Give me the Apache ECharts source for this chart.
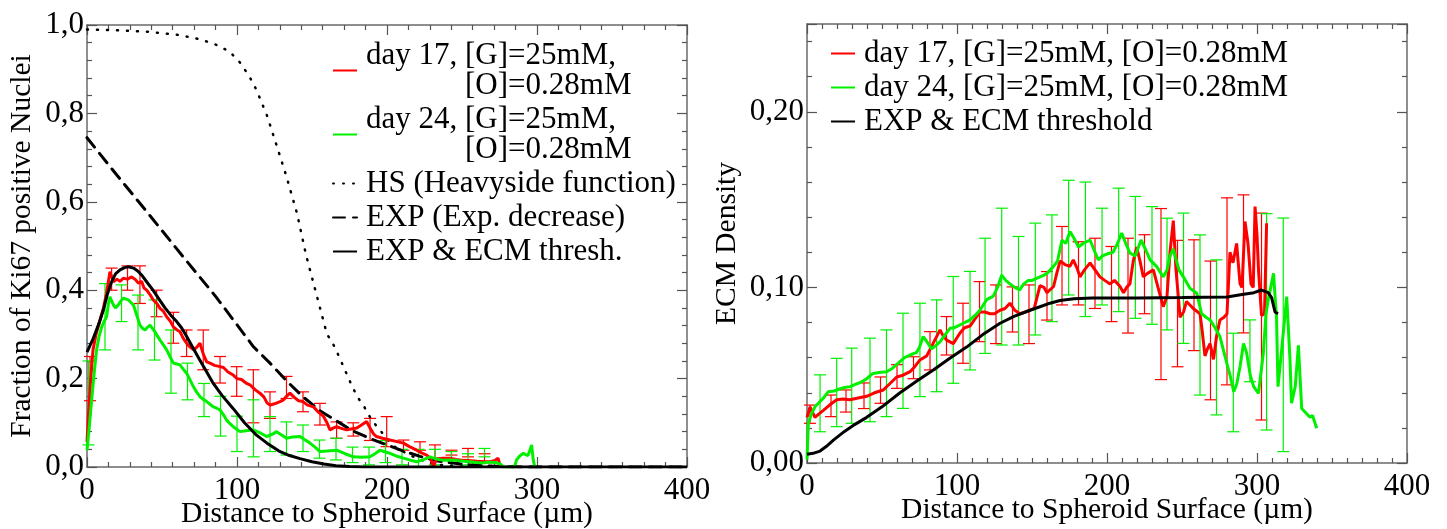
<!DOCTYPE html>
<html>
<head>
<meta charset="utf-8">
<script src="https://cdn.jsdelivr.net/npm/echarts@6/dist/echarts.min.js"></script>
<style>
  html, body { margin: 0; padding: 0; background: #fff; }
  #chart { width: 1447px; height: 529px; }
</style>
</head>
<body>
<div id="chart"></div>
<script>
// ---- left panel: fraction of Ki67 positive nuclei ----
var ki67Day17 = [[0,0.057],[1,0.12],[2.5,0.2],[4,0.265],[6,0.3],[8.7,0.333],[11,0.36],[13,0.393],[15.3,0.442],[17.6,0.419],[20,0.425],[22,0.42],[24.2,0.427],[27,0.425],[29.8,0.43],[32,0.425],[34.2,0.416],[36.4,0.42],[38,0.405],[39.8,0.40],[42,0.39],[44.2,0.378],[46.5,0.37],[48.7,0.359],[51,0.352],[53.1,0.34],[55.5,0.33],[57.6,0.317],[60,0.31],[62,0.306],[64,0.292],[66.4,0.28],[68.5,0.272],[70.9,0.266],[73,0.27],[75.3,0.28],[77.6,0.255],[79.8,0.238],[82,0.235],[85,0.23],[88.7,0.227],[91,0.225],[94,0.215],[97.5,0.208],[100,0.2],[103,0.198],[106.4,0.189],[109,0.185],[112,0.175],[115.3,0.167],[118,0.158],[120,0.145],[122,0.14],[125,0.143],[128.7,0.148],[131,0.152],[133,0.16],[135.3,0.167],[138,0.158],[141,0.15],[144,0.148],[147,0.14],[151,0.136],[154,0.125],[157.6,0.115],[160,0.1],[162,0.084],[164,0.088],[166.4,0.091],[169,0.088],[173,0.084],[176,0.086],[179.8,0.088],[183,0.095],[186.4,0.103],[188.7,0.088],[191,0.075],[193,0.069],[197,0.065],[202,0.061],[206,0.058],[210.9,0.054],[215,0.046],[219.8,0.038],[223,0.032],[226.4,0.027],[229,0.02],[231,0.001],[233,0.018],[237,0.02],[242,0.02],[246,0.017],[251,0.015],[256,0.014],[260,0.013],[265,0.012],[269,0.012],[272,0.015],[274,0.02],[275.5,0.002]];
var ki67Day24 = [[0,0.038],[1.5,0.09],[3.1,0.152],[5,0.22],[6.4,0.265],[8,0.295],[9.8,0.317],[11.5,0.33],[13.1,0.34],[14.3,0.37],[15.3,0.385],[16.5,0.375],[17.6,0.367],[19,0.36],[20.9,0.367],[22.5,0.375],[24.2,0.382],[26,0.38],[27.6,0.378],[29.3,0.372],[30.9,0.367],[33,0.345],[35.3,0.321],[37,0.314],[38.7,0.31],[40.3,0.316],[42,0.321],[43.7,0.313],[45.3,0.306],[47,0.296],[48.7,0.287],[51,0.276],[53.1,0.265],[55.3,0.25],[57.6,0.235],[60,0.233],[62,0.231],[64,0.222],[66.4,0.212],[68.7,0.197],[70.9,0.182],[73,0.17],[75.3,0.159],[77.5,0.153],[79.8,0.148],[82,0.142],[84.2,0.136],[86.5,0.133],[88.7,0.129],[91,0.118],[93.1,0.106],[95.3,0.098],[97.5,0.091],[100,0.085],[102,0.08],[106,0.082],[110.9,0.084],[115,0.078],[119.8,0.069],[124,0.075],[126.4,0.08],[130,0.072],[133,0.065],[137,0.068],[142,0.069],[145,0.062],[148.7,0.054],[152,0.045],[155.3,0.035],[160,0.036],[166.4,0.038],[172,0.03],[177.5,0.023],[183,0.022],[188.7,0.023],[192,0.03],[195.3,0.038],[199,0.034],[202,0.031],[206,0.025],[211,0.02],[215,0.016],[219.8,0.012],[224,0.016],[228.7,0.023],[233,0.018],[237.5,0.015],[242,0.016],[246,0.015],[251,0.013],[255,0.012],[260,0.01],[264,0.009],[268,0.011],[273,0.01],[276,0.006],[277.5,0],[285,0],[286.4,0.016],[288.5,0.025],[290.9,0.031],[292.5,0.028],[294,0.026],[295.5,0.04],[296.4,0.05],[297.5,0.016],[298.5,0],[300,0]];
// error bars: [x, low, high]
var ki67Day17Err = [[2,0.15,0.25],[16.4,0.40,0.45],[27,0.40,0.455],[35.3,0.37,0.455],[46.4,0.34,0.40],[57.6,0.28,0.35],[66.4,0.25,0.31],[77.5,0.22,0.31],[88.7,0.19,0.25],[99.8,0.16,0.227],[110.9,0.10,0.22],[122,0.11,0.17],[133,0.155,0.205],[144,0.125,0.17],[155.3,0.095,0.144],[166.4,0.065,0.102],[177.5,0.07,0.10],[188.7,0.06,0.11],[199.8,0.046,0.114],[211,0.038,0.061],[222,0.038,0.057],[232,0.02,0.05],[243,0.027,0.038],[254,0.023,0.042],[265,0.01,0.03]];
var ki67Day24Err = [[1,0.05,0.24],[12,0.265,0.415],[23,0.329,0.412],[34,0.265,0.389],[45,0.242,0.378],[56,0.167,0.31],[67,0.152,0.235],[78,0.114,0.189],[89,0.07,0.16],[100,0.035,0.115],[111,0.023,0.152],[122,0.035,0.114],[133,0.027,0.102],[144,0.035,0.095],[155,0.02,0.061],[166,0.016,0.065],[177,0.01,0.045],[188,0.005,0.045],[199,0.01,0.06],[210,0.005,0.04],[221,0,0.04],[232,0.005,0.04],[243,0,0.035],[254,0.005,0.03],[265,0.023,0.042]];
var ki67HS = [[0,0.99],[20,0.988],[40,0.985],[60,0.978],[75,0.968],[85,0.957],[95,0.94],[102,0.915],[108,0.885],[113,0.853],[120,0.795],[126,0.732],[133,0.657],[140,0.574],[146,0.48],[153,0.39],[160,0.30],[163,0.285],[166,0.265],[171,0.227],[176,0.188],[180,0.16],[185,0.135],[190,0.105],[195,0.085],[200,0.063],[205,0.046],[215,0.027],[225,0.013],[235,0.005],[250,0.001],[270,0],[400,0]];
var ki67EXP = [[0,0.745],[20,0.66],[40,0.577],[64,0.476],[86,0.385],[111,0.272],[122,0.235],[133,0.195],[144,0.159],[155,0.128],[166,0.105],[177,0.082],[189,0.064],[200,0.05],[211,0.036],[222,0.024],[233,0.014],[244,0.009],[255,0.005],[270,0.002],[290,0],[400,0]];
var ki67EXPECM = [[0,0.26],[4.2,0.291],[8,0.325],[10.9,0.355],[13.5,0.39],[16.4,0.419],[19,0.437],[22,0.446],[25,0.451],[27.6,0.453],[31,0.45],[34,0.443],[37,0.432],[40,0.418],[44,0.4],[48,0.38],[52,0.36],[56,0.343],[59.8,0.329],[63,0.315],[66,0.298],[70.9,0.268],[75,0.243],[80,0.214],[84.2,0.189],[90,0.162],[97.5,0.132],[105,0.1],[113,0.072],[120,0.054],[128,0.036],[135,0.026],[142,0.019],[150,0.012],[158,0.007],[166,0.003],[175,0.001],[185,0],[400,0]];

// ---- right panel: ECM density ----
var ecmDay17 = [[0,0.026],[2,0.032],[5.3,0.026],[8,0.028],[10.9,0.03],[15,0.033],[19.8,0.036],[24,0.0365],[28.7,0.036],[34,0.037],[39.8,0.038],[45,0.04],[50.9,0.0416],[55,0.045],[59.8,0.049],[64,0.05],[68.7,0.052],[72,0.055],[75.3,0.0587],[79.8,0.061],[84,0.068],[88.7,0.0758],[91,0.072],[93.1,0.07],[97.5,0.068],[102,0.074],[105,0.077],[108.7,0.078],[112,0.082],[115.3,0.086],[118.5,0.086],[122,0.085],[125,0.085],[128.7,0.087],[132,0.088],[135.3,0.091],[138.5,0.087],[142,0.085],[145.5,0.086],[148.7,0.087],[151.5,0.088],[155.3,0.101],[158,0.1],[160,0.097],[164.4,0.1005],[166.5,0.108],[168.7,0.115],[172,0.113],[175.3,0.112],[177.5,0.1157],[180,0.111],[182,0.106],[185,0.11],[188.7,0.114],[192,0.11],[195.3,0.106],[198.5,0.104],[202,0.102],[205,0.104],[208.7,0.1005],[211,0.097],[213,0.1],[215.3,0.102],[217.5,0.115],[219.8,0.123],[222,0.115],[224.2,0.106],[227,0.108],[230.9,0.11],[234,0.1],[237.5,0.089],[240,0.095],[242,0.12],[244.2,0.138],[246,0.11],[248.7,0.083],[251,0.086],[253,0.092],[257.5,0.088],[262,0.085],[263.5,0.075],[265.3,0.061],[267,0.065],[268.7,0.068],[271,0.059],[273,0.072],[275.3,0.0815],[278,0.083],[280,0.085],[282,0.12],[284,0.114],[286.4,0.125],[288.7,0.102],[290,0.1],[292,0.1375],[294,0.125],[296,0.102],[297.5,0.1],[298.7,0.146],[300,0.13],[301,0.11],[303,0.084],[305,0.085],[306.4,0.1365]];
var ecmDay24 = [[0,0.002],[0.9,0.0226],[3,0.028],[5.3,0.032],[8.7,0.035],[11,0.037],[14.2,0.0406],[18,0.041],[21.3,0.042],[25,0.043],[28.7,0.0435],[33,0.045],[36,0.046],[39.8,0.048],[44,0.051],[48,0.0515],[53.1,0.052],[57,0.054],[62,0.0577],[65,0.06],[68.7,0.0615],[73.1,0.063],[75,0.066],[77.5,0.072],[80,0.069],[83.1,0.065],[86,0.067],[88.7,0.069],[92,0.073],[95.3,0.0767],[98,0.077],[102,0.0786],[105,0.08],[108.7,0.0815],[112,0.084],[115.3,0.087],[117.5,0.09],[119.8,0.093],[122,0.094],[124.2,0.095],[127,0.1],[129.8,0.107],[132.5,0.104],[135.3,0.102],[138.5,0.1],[141.8,0.0986],[144.5,0.102],[147.5,0.104],[150,0.104],[155.3,0.106],[158,0.107],[160,0.108],[164.4,0.112],[167,0.115],[170,0.127],[172.5,0.125],[175.3,0.1318],[178,0.128],[181,0.123],[184,0.125],[188.7,0.127],[191.5,0.121],[194.2,0.1157],[197,0.118],[200,0.119],[204,0.12],[207,0.125],[209.8,0.131],[212.5,0.125],[215.3,0.1195],[218.9,0.118],[222.7,0.127],[225.5,0.122],[228.7,0.1157],[233,0.112],[237.5,0.106],[240,0.11],[242,0.118],[244.2,0.122],[246,0.116],[248,0.11],[250.9,0.106],[255.3,0.0995],[259.8,0.0967],[263.1,0.085],[266,0.083],[268.7,0.0815],[272,0.077],[275.3,0.072],[279.8,0.057],[282,0.05],[284.5,0.0406],[286.5,0.045],[288.7,0.055],[291,0.068],[293,0.063],[295.5,0.05],[297.8,0.0435],[301,0.0397],[304.2,0.0625],[306,0.085],[307.5,0.0929],[311,0.108],[313,0.083],[314,0.0435],[316.4,0.064],[319.8,0.0948],[322,0.0587],[323,0.034],[325.5,0.0435],[327.6,0.067],[329.8,0.031],[332,0.029],[335.3,0.026],[337,0.027],[339.8,0.0198]];
var ecmDay17Err = [[2,0.0226,0.033],[16,0.0264,0.0387],[26,0.029,0.0416],[38,0.031,0.0456],[49,0.034,0.049],[60,0.0425,0.056],[71,0.048,0.0605],[82,0.053,0.0748],[93,0.0615,0.0834],[104,0.0568,0.091],[115,0.0691,0.1033],[126,0.068,0.1014],[137,0.0746,0.1003],[148,0.068,0.1014],[160,0.0814,0.109],[170,0.09,0.1347],[181,0.09,0.126],[192,0.088,0.128],[203,0.0805,0.1233],[214,0.074,0.128],[225,0.085,0.13],[236,0.0475,0.1449],[247,0.0548,0.1268],[258,0.064,0.1271],[269,0.036,0.115],[280,0.0445,0.151],[291,0.0741,0.1527],[303,0.0245,0.1423]];
var ecmDay24Err = [[8.7,0.0178,0.0502],[19.8,0.0207,0.0596],[29.8,0.0226,0.0654],[42,0.0235,0.0711],[53,0.0264,0.0758],[64,0.0311,0.0853],[75.3,0.0378,0.091],[86.4,0.0406,0.0929],[97.5,0.0454,0.1062],[108.7,0.053,0.1091],[118.7,0.0624,0.128],[129.8,0.0672,0.1451],[141,0.0672,0.129],[152.2,0.0729,0.1366],[163.3,0.0805,0.1413],[174.4,0.0957,0.161],[185.6,0.0834,0.16],[196.7,0.09,0.1451],[207.8,0.0862,0.1565],[218.9,0.0824,0.1518],[230,0.079,0.146],[240,0.0758,0.1394],[251,0.0681,0.1423],[262,0.0387,0.1299],[273,0.0274,0.1157],[284.2,0.0178,0.0739],[295.3,0.0463,0.0815],[306.4,0.0188,0.142],[317.5,0.0065,0.1395]];
var ecmEXPECM = [[0,0.005],[4,0.0055],[8.7,0.0068],[13,0.0095],[17.6,0.013],[25,0.018],[32,0.022],[39.8,0.026],[50,0.032],[62,0.04],[73,0.0465],[84.2,0.053],[95,0.0595],[106.4,0.066],[117,0.073],[128.7,0.0796],[138,0.0835],[148.7,0.087],[155.3,0.089],[162,0.091],[168.7,0.0925],[178,0.0935],[190,0.094],[220,0.094],[250,0.0942],[280,0.0945],[290,0.096],[298,0.097],[303,0.0985],[307.5,0.097],[309.8,0.094],[312,0.086],[314,0.085]];

var FONT = '"Liberation Serif", "Times New Roman", serif';
var RED = '#ff0000', GREEN = '#00f000';

var chart = echarts.init(document.getElementById('chart'));

function errorBar(params, api) {
  var x = api.value(0);
  var lo = api.coord([x, api.value(1)]);
  var hi = api.coord([x, api.value(2)]);
  var c = api.visual('color');
  var w = 6;
  var st = {stroke: c, lineWidth: 1.2};
  return {type: 'group', children: [
    {type: 'line', shape: {x1: lo[0], y1: lo[1], x2: hi[0], y2: hi[1]}, style: st},
    {type: 'line', shape: {x1: lo[0] - w, y1: lo[1], x2: lo[0] + w, y2: lo[1]}, style: st},
    {type: 'line', shape: {x1: hi[0] - w, y1: hi[1], x2: hi[0] + w, y2: hi[1]}, style: st}
  ]};
}

function commaFmt(d) {
  return function (v) { return v.toFixed(d).replace('.', ','); };
}

var frameLine = {color: '#6a6a6a', width: 1.5};
var tickLine = {color: '#555', width: 1.2};

function xAx(grid, pos, split, withLabels) {
  return {
    type: 'value', gridIndex: grid, position: pos, min: 0, max: 400, interval: 100,
    axisLine: {show: true, onZero: false, lineStyle: frameLine},
    axisTick: {show: true, inside: true, length: 10, lineStyle: tickLine},
    minorTick: {show: true, splitNumber: split, length: 5, lineStyle: tickLine},
    splitLine: {show: false},
    axisLabel: {show: withLabels, color: '#000', fontFamily: FONT, fontSize: 31, margin: 8},
    name: withLabels ? 'Distance to Spheroid Surface (\u00b5m)' : '',
    nameLocation: 'middle', nameGap: 32, nameMoveOverlap: false,
    nameTextStyle: {color: '#000', fontFamily: FONT, fontSize: 29.5}
  };
}

function yAx(grid, pos, max, interval, digits, withLabels, name, gap) {
  return {
    type: 'value', gridIndex: grid, position: pos, min: 0, max: max, interval: interval,
    axisLine: {show: true, onZero: false, lineStyle: frameLine},
    axisTick: {show: true, inside: true, length: 10, lineStyle: tickLine},
    minorTick: {show: true, splitNumber: 5, length: 5, lineStyle: tickLine},
    splitLine: {show: false},
    axisLabel: {show: withLabels, color: '#000', fontFamily: FONT, fontSize: 31, margin: 3,
      formatter: commaFmt(digits), showMaxLabel: max === 1},
    name: withLabels ? name : '',
    nameLocation: 'middle', nameGap: gap, nameMoveOverlap: false,
    nameTextStyle: {color: '#000', fontFamily: FONT, fontSize: 29.5}
  };
}

function line(name, data, color, width, type, xi, yi) {
  return {
    name: name, type: 'line', data: data, xAxisIndex: xi, yAxisIndex: yi,
    symbol: 'none', showSymbol: false, z: 3,
    lineStyle: {color: color, width: width, type: type, cap: type === 'solid' ? 'butt' : 'round'},
    itemStyle: {color: color}
  };
}

function bars(name, data, color, xi, yi) {
  return {
    name: name, type: 'custom', data: data, xAxisIndex: xi, yAxisIndex: yi,
    renderItem: errorBar, encode: {x: 0, y: [1, 2]}, itemStyle: {color: color}, z: 2
  };
}

var L17 = 'day 17, [G]=25mM, [O]=0.28mM';
var L24 = 'day 24, [G]=25mM, [O]=0.28mM';
var legendText = {color: '#000', fontFamily: FONT, fontSize: 31, lineHeight: 30, padding: [0, 0, 0, 4]};

var option = {
  backgroundColor: '#fff',
  animation: false,
  grid: [
    {left: 87, top: 25, width: 600, height: 442, outerBoundsMode: 'none'},
    {left: 807, top: 24, width: 600, height: 439, outerBoundsMode: 'none'}
  ],
  xAxis: [
    xAx(0, 'bottom', 7, true), xAx(0, 'top', 7, false),
    xAx(1, 'bottom', 10, true), xAx(1, 'top', 10, false)
  ],
  yAxis: [
    yAx(0, 'left', 1, 0.2, 1, true, 'Fraction of Ki67 positive Nuclei', 50),
    yAx(0, 'right', 1, 0.2, 1, false, '', 0),
    yAx(1, 'left', 0.25, 0.1, 2, true, 'ECM Density', 65),
    yAx(1, 'right', 0.25, 0.1, 2, false, '', 0)
  ],
  legend: [
    {
      left: 332, top: 40, padding: 0, orient: 'vertical', itemWidth: 24, itemHeight: 14, itemGap: 3,
      itemStyle: {opacity: 0},
      data: [L17, L24, 'HS (Heavyside function)', 'EXP (Exp. decrease)', 'EXP & ECM thresh.'],
      formatter: function (n) {
        if (n.indexOf('day') === 0) {
          var parts = n.split(', [O]');
          return '{a|' + parts[0] + ',}\n{b|[O]' + parts[1] + '}';
        }
        return n;
      },
      textStyle: Object.assign({}, legendText, {
        rich: {
          a: {color: '#000', fontFamily: FONT, fontSize: 31, lineHeight: 30},
          b: {color: '#000', fontFamily: FONT, fontSize: 31, lineHeight: 30, padding: [0, 0, 0, 99]}
        }
      })
    },
    {
      left: 830, top: 38, padding: 0, orient: 'vertical', itemWidth: 24, itemHeight: 14, itemGap: 3,
      itemStyle: {opacity: 0},
      data: [L17 + ' ', L24 + ' ', 'EXP & ECM threshold'],
      formatter: function (n) { return n.trim(); },
      textStyle: legendText
    }
  ],
  series: [
    bars('e17', ki67Day17Err, RED, 0, 0),
    bars('e24', ki67Day24Err, GREEN, 0, 0),
    line('HS (Heavyside function)', ki67HS, '#000', 2.5, [1, 9], 0, 0),
    line('EXP (Exp. decrease)', ki67EXP, '#000', 3, [12, 8], 0, 0),
    line(L17, ki67Day17, RED, 3, 'solid', 0, 0),
    line(L24, ki67Day24, GREEN, 3, 'solid', 0, 0),
    line('EXP & ECM thresh.', ki67EXPECM, '#000', 3, 'solid', 0, 0),

    bars('f17', ecmDay17Err, RED, 2, 2),
    bars('f24', ecmDay24Err, GREEN, 2, 2),
    line(L17 + ' ', ecmDay17, RED, 3, 'solid', 2, 2),
    line(L24 + ' ', ecmDay24, GREEN, 3, 'solid', 2, 2),
    line('EXP & ECM threshold', ecmEXPECM, '#000', 3, 'solid', 2, 2)
  ]
};

chart.setOption(option);
</script>
</body>
</html>
